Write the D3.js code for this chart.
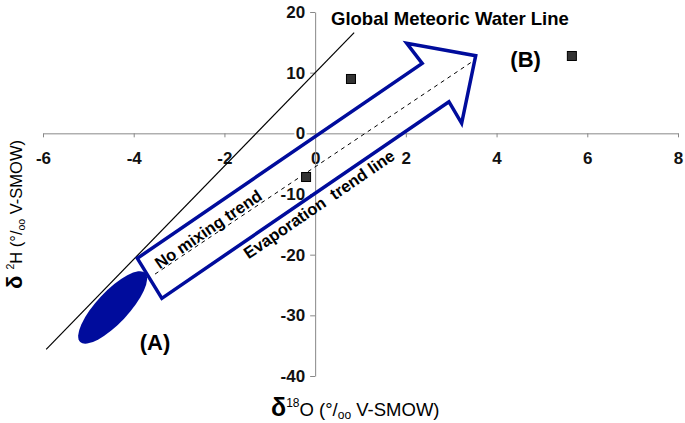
<!DOCTYPE html>
<html>
<head>
<meta charset="utf-8">
<script src="https://cdn.jsdelivr.net/npm/d3@7.9.0/dist/d3.min.js"></script>
<style>
  body { margin: 0; background: #fff; }
  svg { display: block; font-family: "Liberation Sans", Arial, sans-serif; }
  .axis path, .axis line { stroke: #888; }
  .axis text { font-size: 17px; font-weight: bold; fill: #111; }
</style>
</head>
<body>
<svg id="chart" width="685" height="423"></svg>
<script>
// axis ticks
const xTicks = [-6, -4, -2, 0, 2, 4, 6, 8];
const yTicks = [-40, -30, -20, -10, 0, 10, 20];

// samples (d18O, d2H)
const sampleO18 = [-0.2, 0.79, 5.66];
const sampleH2 = [-7.2, 8.96, 12.75];

// Global Meteoric Water Line end points
const gmwlO18 = [-5.93, 0.86];
const gmwlH2 = [-35.6, 16.6];

// evaporation trend line (dashed)
const trendO18 = [-3.53, 3.43];
const trendH2 = [-23.2, 11.65];

// big arrow outline
const arrowO18 = [-3.92, 2.36, 2.02, 3.54, 3.23, 2.95, -3.38];
const arrowH2 = [-20.6, 11.54, 14.84, 12.8, 1.65, 5.21, -27.2];

// area (A) ellipse, ends of the long axis
const areaO18 = [-5.18, -3.75];
const areaH2 = [-34.4, -23.0];

const svg = d3.select('#chart');
const blue = '#000c9c';

let x = d3.scaleLinear().domain([-6, 8]).range([43, 678]);
let y = d3.scaleLinear().domain([-40, 20]).range([376, 12]);

// x axis through y = 0
let gx = svg.append('g')
    .attr('class', 'axis')
    .attr('transform', `translate(0,${y(0)})`)
    .call(d3.axisBottom(x).tickValues(xTicks).tickFormat(d => String(d))
        .tickSize(4).tickPadding(15).tickSizeOuter(0));

// y axis through x = 0
let gy = svg.append('g')
    .attr('class', 'axis')
    .attr('transform', `translate(${x(0)},0)`)
    .call(d3.axisLeft(y).tickValues(yTicks).tickFormat(d => String(d))
        .tickSize(5).tickPadding(5).tickSizeOuter(0));

// the two zero labels sit on top of the other axis
gx.selectAll('.tick text').filter(d => d === 0)
    .attr('stroke', '#fff').attr('stroke-width', 4).attr('paint-order', 'stroke');
gy.selectAll('.tick text').filter(d => d === 0)
    .attr('stroke', '#fff').attr('stroke-width', 4).attr('paint-order', 'stroke');

let line = d3.line().x(d => x(d[0])).y(d => y(d[1]));

// GMWL
svg.append('path')
    .attr('d', line(d3.zip(gmwlO18, gmwlH2)))
    .attr('stroke', '#000').attr('stroke-width', 1.2).attr('fill', 'none');

// dashed trend line
svg.append('path')
    .attr('d', line(d3.zip(trendO18, trendH2)))
    .attr('stroke', '#000').attr('stroke-width', 1).attr('stroke-dasharray', '4,4').attr('fill', 'none');

// arrow
svg.append('path')
    .attr('d', line(d3.zip(arrowO18, arrowH2)) + 'Z')
    .attr('stroke', blue).attr('stroke-width', 3.5).attr('stroke-linejoin', 'miter')
    .attr('fill', 'none');

// ellipse (A)
let ex0 = x(areaO18[0]), ey0 = y(areaH2[0]), ex1 = x(areaO18[1]), ey1 = y(areaH2[1]);
let ang = Math.atan2(ey1 - ey0, ex1 - ex0) * 180 / Math.PI;
svg.append('ellipse')
    .attr('cx', 0).attr('cy', 0)
    .attr('rx', Math.hypot(ex1 - ex0, ey1 - ey0) / 2)
    .attr('ry', 16)
    .attr('transform', `translate(${(ex0 + ex1) / 2},${(ey0 + ey1) / 2}) rotate(${ang})`)
    .attr('fill', blue);

// sample squares
svg.selectAll('rect.sample')
    .data(d3.zip(sampleO18, sampleH2))
    .enter()
    .append('rect')
    .attr('class', 'sample')
    .attr('x', d => x(d[0]) - 4.5)
    .attr('y', d => y(d[1]) - 4.5)
    .attr('width', 9).attr('height', 9)
    .attr('fill', '#333').attr('stroke', '#000').attr('stroke-width', 1);

// angle of the arrow shaft, for the labels along it
let shaftAng = Math.atan2(y(arrowH2[1]) - y(arrowH2[0]), x(arrowO18[1]) - x(arrowO18[0])) * 180 / Math.PI;

function label(text, dx, dy, size, opts = {}) {
    let t = svg.append('text')
        .attr('x', x(dx)).attr('y', y(dy))
        .attr('font-size', size).attr('font-weight', 'bold')
        .attr('fill', '#000')
        .attr('text-anchor', opts.anchor || 'middle')
        .attr('dominant-baseline', opts.baseline || 'central')
        .attr('xml:space', 'preserve')
        .text(text);
    if (opts.rotate) t.attr('transform', `rotate(${opts.rotate},${x(dx)},${y(dy)})`);
    return t;
}

label('Global Meteoric Water Line', 0.35, 17.86, 18.5, { anchor: 'start', baseline: 'alphabetic' });
label('(B)', 4.64, 12.25, 22);
label('(A)', -3.53, -34.4, 22);
label('No mixing trend', -2.36, -15.77, 16.5, { rotate: shaftAng });
label('Evaporation  trend line', 0.085, -11.65, 16.5, { rotate: shaftAng });

// axis titles
let xt = svg.append('text').attr('x', 271).attr('y', 416).attr('font-size', 18.5).attr('fill', '#000');
xt.append('tspan').attr('font-weight', 'bold').attr('font-size', 25).text('δ');
xt.append('tspan').attr('font-size', 12).attr('dy', -9).text('18');
xt.append('tspan').attr('dy', 9).text('O (°/');
xt.append('tspan').attr('font-size', 12).attr('dy', 3).text('oo');
xt.append('tspan').attr('dy', -3).text(' V-SMOW)');

let yt = svg.append('text').attr('transform', 'translate(22,289) rotate(-90)')
    .attr('font-size', 16.5).attr('fill', '#000').attr('xml:space', 'preserve');
yt.append('tspan').attr('font-weight', 'bold').attr('font-size', 22).text('δ ');
yt.append('tspan').attr('font-size', 10.5).attr('dy', -8).text('2');
yt.append('tspan').attr('dy', 8).text('H (°/');
yt.append('tspan').attr('font-size', 10.5).attr('dy', 3).text('oo');
yt.append('tspan').attr('dy', -3).text(' V-SMOW)');
</script>
</body>
</html>
